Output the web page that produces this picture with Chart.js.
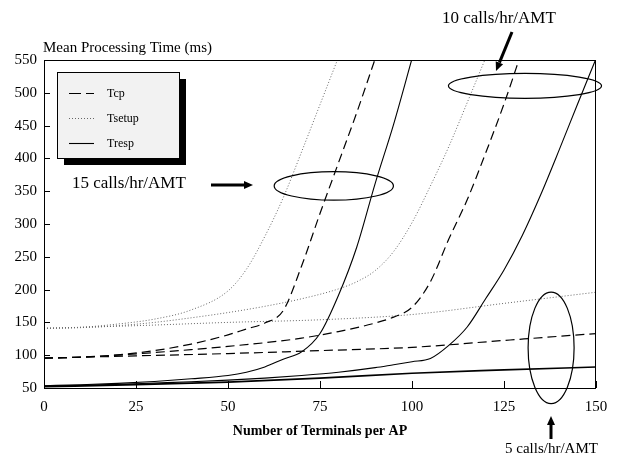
<!DOCTYPE html>
<html><head><meta charset="utf-8">
<script src="https://cdn.jsdelivr.net/npm/chart.js@4/dist/chart.umd.min.js"></script>
<style>html,body{margin:0;padding:0;background:#fff}#wrap{width:619px;height:457px}</style>
</head><body><div id="wrap"><canvas id="c" width="619" height="457"></canvas></div>
<script>
// ---- tick labels / categories ----
const xTickValues = [0, 25, 50, 75, 100, 125, 150];
const yTickValues = [50, 100, 150, 200, 250, 300, 350, 400, 450, 500, 550];
const seriesNames = ['Tcp', 'Tsetup', 'Tresp'];
const loadLabels = ['15 calls/hr/AMT', '10 calls/hr/AMT', '5 calls/hr/AMT'];
const yTitle = 'Mean Processing Time (ms)';
const xTitle = 'Number of Terminals per AP';

// ---- 15 calls/hr/AMT ----
const x15Tcp = [0, 10, 20, 30, 40, 50, 55, 60, 65, 70, 75, 80, 85, 90];
const y15Tcp = [95.5, 97, 100.5, 107, 117, 131, 140, 149, 168, 236, 316, 393, 470, 552];
const x15Tsetup = [0, 10, 20, 30, 40, 50, 55, 60, 65, 70, 75, 80];
const y15Tsetup = [141, 142.5, 147.5, 155, 169, 198, 231, 281, 340, 410, 482, 554];
const x15Tresp = [0, 10, 20, 30, 40, 50, 55, 60, 65, 70, 75, 80, 85, 90, 95, 100];
const y15Tresp = [53.5, 55, 57, 60, 64, 69, 74, 82, 94, 105, 133, 191, 265, 362, 452, 552];

// ---- 10 calls/hr/AMT ----
const x10Tcp = [0, 10, 20, 30, 40, 50, 60, 70, 80, 90, 95, 100, 105, 110, 115, 120, 125, 130];
const y10Tcp = [95.5, 97, 100, 104, 108.5, 113.5, 119, 126, 136, 149, 158, 173, 212, 277, 337, 408, 483, 566];
const x10Tsetup = [0, 10, 20, 30, 40, 50, 60, 70, 80, 85, 90, 95, 100, 105, 110, 115, 120];
const y10Tsetup = [141, 142, 145, 150, 157, 165, 174.5, 186, 201, 212, 229, 258, 302, 358, 418, 485, 553];
const x10Tresp = [0, 10, 20, 30, 40, 50, 60, 70, 80, 90, 95, 100, 105, 110, 115, 120, 125, 130, 135, 140, 145, 150];
const y10Tresp = [53, 54, 55.5, 57.5, 59.5, 62, 65, 69, 74, 81, 85.5, 90, 95, 115, 143, 186, 230, 283, 345, 413, 483, 552];

// ---- 5 calls/hr/AMT ----
const x5Tcp = [0, 25, 50, 75, 100, 125, 150];
const y5Tcp = [95.5, 99, 102.5, 107, 112, 122.5, 133];
const x5Tsetup = [0, 25, 50, 75, 100, 125, 150];
const y5Tsetup = [141, 145, 150, 154, 162, 179, 196];
const x5Tresp = [0, 25, 50, 75, 100, 125, 150];
const y5Tresp = [52, 55, 59, 65, 72.5, 77.5, 82];

// ---- styles ----
const FONT = "'Liberation Serif', 'Times New Roman', serif";
const styles = {
  Tcp:    { color: '#000', width: 1.2, dash: [9, 5] },
  Tsetup: { color: '#666', width: 1, dash: [1, 2] },
  Tresp:  { color: '#000', width: 1.1, dash: [] }
};

function pts(xs, ys) { return xs.map((v, i) => ({ x: v, y: ys[i] })); }
function ds(name, xs, ys, extraWidth) {
  const s = styles[name];
  return {
    label: name, data: pts(xs, ys), borderColor: s.color, borderWidth: s.width + (extraWidth || 0),
    borderDash: s.dash, pointRadius: 0, fill: false, cubicInterpolationMode: 'monotone'
  };
}

const datasets = [
  ds('Tcp', x15Tcp, y15Tcp), ds('Tsetup', x15Tsetup, y15Tsetup), ds('Tresp', x15Tresp, y15Tresp),
  ds('Tcp', x10Tcp, y10Tcp), ds('Tsetup', x10Tsetup, y10Tsetup), ds('Tresp', x10Tresp, y10Tresp),
  ds('Tcp', x5Tcp, y5Tcp), ds('Tsetup', x5Tsetup, y5Tsetup), ds('Tresp', x5Tresp, y5Tresp, 0.6)
];

// annotation geometry (data units for ellipses, pixels for labels/arrows)
const ellipses = [
  { cx: 78.75, cy: 358, rx: 16.2, ry: 21.7 },
  { cx: 130.7, cy: 510.6, rx: 20.8, ry: 19 },
  { cx: 137.8, cy: 111.3, rx: 6.25, ry: 85 }
];
const labels = [
  { text: loadLabels[0], x: 72, y: 188, size: 17 },
  { text: loadLabels[1], x: 442, y: 23, size: 17 },
  { text: loadLabels[2], x: 505, y: 453, size: 15 }
];
const arrows = [
  { x1: 211, y1: 185, x2: 253, y2: 185 },
  { x1: 512, y1: 32, x2: 496, y2: 71 },
  { x1: 551, y1: 439, x2: 551, y2: 416 }
];

function arrow(ctx, a) {
  const ang = Math.atan2(a.y2 - a.y1, a.x2 - a.x1);
  const L = 9, W = 4;
  const bx = a.x2 - L * Math.cos(ang), by = a.y2 - L * Math.sin(ang);
  ctx.beginPath(); ctx.moveTo(a.x1, a.y1); ctx.lineTo(bx, by);
  ctx.lineWidth = 3; ctx.strokeStyle = '#000'; ctx.setLineDash([]); ctx.stroke();
  ctx.beginPath();
  ctx.moveTo(a.x2, a.y2);
  ctx.lineTo(bx + W * Math.sin(ang), by - W * Math.cos(ang));
  ctx.lineTo(bx - W * Math.sin(ang), by + W * Math.cos(ang));
  ctx.closePath(); ctx.fillStyle = '#000'; ctx.fill();
}

const overlay = {
  id: 'overlay',
  afterDraw(chart) {
    const { ctx, chartArea: a, scales: { x, y } } = chart;
    ctx.save();
    ctx.setLineDash([]);
    ctx.strokeStyle = '#000'; ctx.lineWidth = 1;
    ctx.strokeRect(a.left + 0.5, a.top + 0.5, a.right - a.left - 1, a.bottom - a.top);
    // inward tick marks
    ctx.beginPath();
    yTickValues.forEach(v => { const py = Math.round(y.getPixelForValue(v)) + 0.5; ctx.moveTo(a.left, py); ctx.lineTo(a.left + 6, py); });
    xTickValues.forEach(v => { const px = Math.round(x.getPixelForValue(v)) + 0.5; ctx.moveTo(px, a.bottom); ctx.lineTo(px, a.bottom - 7); });
    ctx.stroke();
    // titles
    ctx.fillStyle = '#000';
    ctx.font = '15px ' + FONT; ctx.textAlign = 'left'; ctx.textBaseline = 'alphabetic';
    ctx.fillText(yTitle, 43, 52);
    ctx.font = 'bold 14px ' + FONT; ctx.textAlign = 'center';
    ctx.fillText(xTitle, (a.left + a.right) / 2, 435);
    // legend
    const L = { x: 57, y: 72, w: 122, h: 86 };
    ctx.fillStyle = '#000'; ctx.fillRect(L.x + 7, L.y + 7, L.w, L.h);
    ctx.fillStyle = '#f2f2f2'; ctx.fillRect(L.x, L.y, L.w, L.h);
    ctx.strokeStyle = '#000'; ctx.lineWidth = 1; ctx.strokeRect(L.x + 0.5, L.y + 0.5, L.w, L.h);
    const rows = [93, 118, 143];
    ctx.font = '12px ' + FONT; ctx.textAlign = 'left'; ctx.textBaseline = 'middle';
    seriesNames.forEach((n, i) => {
      const s = styles[n];
      ctx.beginPath(); ctx.setLineDash(n === 'Tcp' ? [12, 5] : s.dash);
      ctx.strokeStyle = s.color; ctx.lineWidth = s.width;
      ctx.moveTo(69, rows[i] + 0.5); ctx.lineTo(94, rows[i] + 0.5); ctx.stroke();
      ctx.setLineDash([]); ctx.fillStyle = '#000';
      ctx.fillText(n, 107, rows[i] + 1);
    });
    // ellipses
    ctx.strokeStyle = '#000'; ctx.lineWidth = 1.2; ctx.setLineDash([]);
    ellipses.forEach(e => {
      const cx = x.getPixelForValue(e.cx), cy = y.getPixelForValue(e.cy);
      const rx = Math.abs(x.getPixelForValue(e.cx + e.rx) - cx);
      const ry = Math.abs(y.getPixelForValue(e.cy + e.ry) - cy);
      ctx.beginPath(); ctx.ellipse(cx, cy, rx, ry, 0, 0, Math.PI * 2); ctx.stroke();
    });
    // labels and arrows
    ctx.fillStyle = '#000'; ctx.textAlign = 'left'; ctx.textBaseline = 'alphabetic';
    labels.forEach(l => { ctx.font = l.size + 'px ' + FONT; ctx.fillText(l.text, l.x, l.y); });
    arrows.forEach(ar => arrow(ctx, ar));
    ctx.restore();
  }
};

new Chart(document.getElementById('c'), {
  type: 'line',
  data: { datasets },
  options: {
    responsive: false, animation: false, devicePixelRatio: 1,
    layout: { padding: { top: 60, right: 23, left: 0, bottom: 0 } },
    plugins: { legend: { display: false }, tooltip: { enabled: false }, title: { display: false } },
    scales: {
      x: {
        type: 'linear', min: 0, max: 150,
        afterFit: s => { s.height = 69; },
        afterBuildTicks: s => { s.ticks = xTickValues.map(v => ({ value: v })); },
        grid: { display: false, drawTicks: false }, border: { display: false },
        ticks: { padding: 10, color: '#000', font: { family: FONT, size: 15 }, maxRotation: 0 }
      },
      y: {
        type: 'linear', min: 50, max: 550,
        afterFit: s => { s.width = 44; },
        afterBuildTicks: s => { s.ticks = yTickValues.map(v => ({ value: v })); },
        grid: { display: false, drawTicks: false }, border: { display: false },
        ticks: { padding: 7, color: '#000', font: { family: FONT, size: 15 } }
      }
    }
  },
  plugins: [overlay]
});
</script>
</body></html>
